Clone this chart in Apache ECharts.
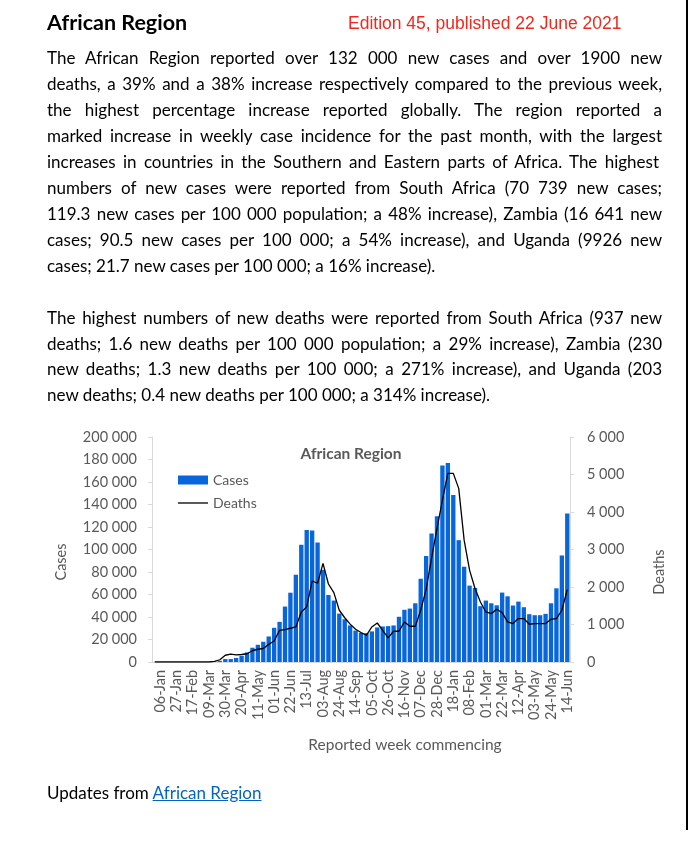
<!DOCTYPE html>
<html>
<head>
<meta charset="utf-8">
<script src="https://cdn.jsdelivr.net/npm/echarts@6/dist/echarts.min.js"></script>
<style>
  html, body { margin: 0; padding: 0; background: #fff; }
  body { width: 690px; height: 859px; position: relative; overflow: hidden; font-family: Lato, 'Noto Sans', sans-serif; }
  #chart { position: absolute; left: 0; top: 0; width: 690px; height: 859px; }
  .txt { position: absolute; z-index: 2; white-space: nowrap; color: #000; }
  .line { font-size: 17px; line-height: 26px; left: 47px; }
  #title { left: 47px; top: 7px; font-size: 21.5px; font-weight: 700; line-height: 30px; }
  #edition { left: 348px; top: 12px; font-family: 'Liberation Sans', Arial, sans-serif; font-size: 17.5px; color: #f0281e; line-height: 22px; }
  #updates { left: 47px; top: 780px; font-size: 17px; line-height: 26px; }
  #updates a { color: #0563C1; text-decoration: underline; }
  #border { position: absolute; left: 686px; top: 0; width: 1.5px; height: 830px; background: #000; z-index: 3; }
</style>
</head>
<body>
<div id="chart"></div>
<div id="title" class="txt">African Region</div>
<div id="edition" class="txt">Edition 45, published 22 June 2021</div>
<div id="updates" class="txt">Updates from <a>African Region</a></div>
<div id="border"></div>
<script>
// ---- text content ----
const para1 = [
  "The African Region reported over 132 000 new cases and over 1900 new",
  "deaths, a 39% and a 38% increase respectively compared to the previous week,",
  "the highest percentage increase reported globally. The region reported a",
  "marked increase in weekly case incidence for the past month, with the largest",
  "increases in countries in the Southern and Eastern parts of Africa.  The highest",
  "numbers of new cases were reported from South Africa (70 739 new cases;",
  "119.3 new cases per 100 000 population; a 48% increase), Zambia (16 641 new",
  "cases; 90.5 new cases per 100 000; a 54% increase), and Uganda (9926 new",
  "cases; 21.7 new cases per 100 000; a 16% increase)."
];
const para2 = [
  "The highest numbers of new deaths were reported from South Africa (937 new",
  "deaths; 1.6 new deaths per 100 000 population; a 29% increase), Zambia (230",
  "new deaths; 1.3 new deaths per 100 000; a 271% increase), and Uganda (203",
  "new deaths; 0.4 new deaths per 100 000; a 314% increase)."
];

// ---- chart data ----
const weeks = [
  "30-Dec","06-Jan","13-Jan","20-Jan","27-Jan","03-Feb","10-Feb","17-Feb","24-Feb","02-Mar",
  "09-Mar","16-Mar","23-Mar","30-Mar","06-Apr","13-Apr","20-Apr","27-Apr","04-May","11-May",
  "18-May","25-May","01-Jun","08-Jun","15-Jun","22-Jun","29-Jun","06-Jul","13-Jul","20-Jul",
  "27-Jul","03-Aug","10-Aug","17-Aug","24-Aug","31-Aug","07-Sep","14-Sep","21-Sep","28-Sep",
  "05-Oct","12-Oct","19-Oct","26-Oct","02-Nov","09-Nov","16-Nov","23-Nov","30-Nov","07-Dec",
  "14-Dec","21-Dec","28-Dec","04-Jan","11-Jan","18-Jan","25-Jan","01-Feb","08-Feb","15-Feb",
  "22-Feb","01-Mar","08-Mar","15-Mar","22-Mar","29-Mar","05-Apr","12-Apr","19-Apr","26-Apr",
  "03-May","10-May","17-May","24-May","31-May","07-Jun","14-Jun"
];
const cases = [
  0, 0,0,0,0,0,0,0,0,5,40,
  300,1000,2600,2600,3600,5500,8500,12700,15300,18000,
  22700,30400,35700,49300,61600,77600,104200,117400,116800,106200,
  82000,59600,54600,43000,38000,32500,28000,25900,25700,27200,
  30700,31600,31900,32500,40200,46400,47500,52200,74000,94200,
  114200,129600,174700,177000,148400,108300,84700,67900,65800,49600,
  54600,52200,50400,61700,58400,50200,53700,48700,42500,41600,
  41600,42800,52200,65500,94700,131900
];
const deaths = [
  0, 0,0,0,0,0,0,0,0,0,0,
  15,60,180,210,190,200,220,300,340,360,
  470,560,845,865,900,935,1335,1470,2160,2100,
  2630,2080,1850,1380,1180,1010,875,785,713,935,
  1040,846,641,820,820,1068,953,953,1380,1940,
  2770,3560,4320,5030,5030,4630,3250,2450,1960,1600,
  1335,1290,1407,1318,1068,1025,1159,1159,1007,1025,
  1025,1025,1140,1159,1380,1933
];
const casesTicks = { min: 0, max: 200000, interval: 20000 };
const deathsTicks = { min: 0, max: 6000, interval: 1000 };

// ---- body text placement with justification ----
function placeLines(lines, top0, step) {
  lines.forEach((t, i) => {
    const d = document.createElement('div');
    d.className = 'txt line';
    d.style.top = (top0 + i * step) + 'px';
    d.textContent = t;
    document.body.appendChild(d);
    if (i < lines.length - 1) {
      const w = d.getBoundingClientRect().width;
      const spaces = (t.match(/ /g) || []).length;
      if (spaces) d.style.wordSpacing = ((615 - w) / spaces) + 'px';
    }
  });
}
placeLines(para1, 45, 26);
placeLines(para2, 305, 25.5);

// ---- chart ----
const fmt = v => String(v).replace(/\B(?=(\d{3})+(?!\d))/g, ' ');
const gray = '#595959';
const axisCol = '#d9d9d9';
const font = 'Lato';
const chart = echarts.init(document.getElementById('chart'), null, { renderer: 'canvas' });
chart.setOption({
  animation: false,
  textStyle: { fontFamily: font },
  grid: { left: 152, right: 120, top: 437, bottom: 197, containLabel: false },
  legend: {
    orient: 'vertical', left: 173, top: 468, itemWidth: 30, itemHeight: 9, itemGap: 9,
    symbolKeepAspect: true,
    textStyle: { color: gray, fontSize: 14, fontFamily: font },
    data: [
      { name: 'Cases', icon: 'rect' },
      { name: 'Deaths', icon: 'path://M0,0 L30,0 L30,1.3 L0,1.3 Z', itemStyle: { color: '#000' } }
    ]
  },
  xAxis: {
    type: 'category', data: weeks,
    axisLine: { lineStyle: { color: axisCol } },
    axisTick: { interval: 0, length: 4, lineStyle: { color: axisCol } },
    axisLabel: { interval: (i) => i % 3 === 1, rotate: 90, color: gray, fontSize: 14.5, margin: 8, fontFamily: font }
  },
  yAxis: [
    { type: 'value', min: casesTicks.min, max: casesTicks.max, interval: casesTicks.interval,
      axisLine: { show: true, lineStyle: { color: axisCol } },
      axisTick: { show: true, length: 4, lineStyle: { color: axisCol } },
      splitLine: { show: false },
      axisLabel: { color: gray, fontSize: 14.5, margin: 15, formatter: fmt, fontFamily: font } },
    { type: 'value', min: deathsTicks.min, max: deathsTicks.max, interval: deathsTicks.interval,
      position: 'right',
      axisLine: { show: true, lineStyle: { color: axisCol } },
      axisTick: { show: true, length: 4, lineStyle: { color: axisCol } },
      splitLine: { show: false },
      axisLabel: { color: gray, fontSize: 14.5, margin: 17, formatter: fmt, fontFamily: font } }
  ],
  series: [
    { name: 'Cases', type: 'bar', data: cases, yAxisIndex: 0,
      barCategoryGap: '20%', itemStyle: { color: '#0866dc' } },
    { name: 'Deaths', type: 'line', data: deaths, yAxisIndex: 1,
      symbol: 'none', lineStyle: { color: '#000', width: 1.3 }, itemStyle: { color: '#000' } }
  ],
  graphic: [
    { type: 'text', x: 351, y: 454, style: { text: 'African Region', fill: gray, font: 'bold 15.5px Lato', align: 'center', verticalAlign: 'middle' } },
    { type: 'text', x: 61, y: 562, rotation: Math.PI / 2, style: { text: 'Cases', fill: gray, font: '14.5px Lato', align: 'center', verticalAlign: 'middle' } },
    { type: 'text', x: 659, y: 572, rotation: Math.PI / 2, style: { text: 'Deaths', fill: gray, font: '14.5px Lato', align: 'center', verticalAlign: 'middle' } },
    { type: 'text', x: 405, y: 745, style: { text: 'Reported week commencing', fill: gray, font: '15.5px Lato', align: 'center', verticalAlign: 'middle' } }
  ]
});
</script>
</body>
</html>
